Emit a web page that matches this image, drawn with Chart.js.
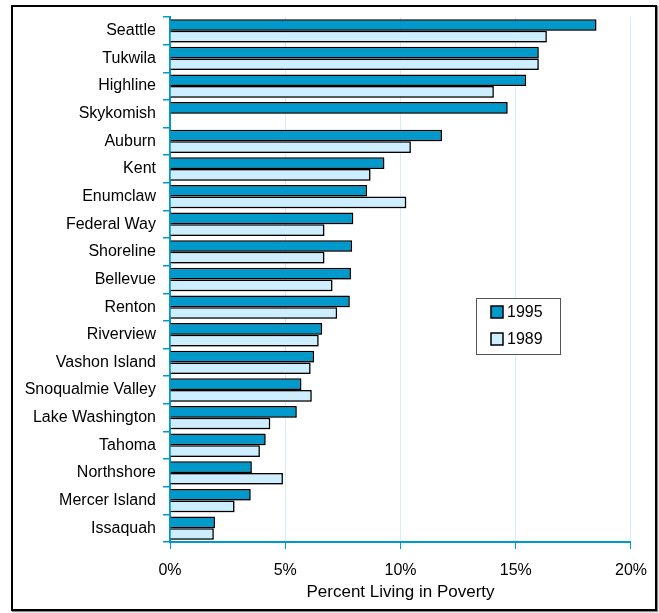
<!DOCTYPE html>
<html>
<head>
<meta charset="utf-8">
<script src="https://cdn.jsdelivr.net/npm/chart.js@4"></script>
<style>
  html, body { margin: 0; padding: 0; background: #fff; }
  #wrap { position: relative; width: 659px; height: 613px; }
  #frame {
    position: absolute; left: 11px; top: 5px; width: 646px; height: 606px;
    box-sizing: border-box; border: 2px solid #000; box-shadow: 1px 1px 1px #888;
    pointer-events: none;
  }
  canvas { position: absolute; left: 0; top: 0; }
</style>
</head>
<body>
<div id="wrap">
  <canvas id="chart" width="659" height="613"></canvas>
  <div id="frame"></div>
</div>
<script>
const districts = [
  "Seattle", "Tukwila", "Highline", "Skykomish", "Auburn", "Kent", "Enumclaw",
  "Federal Way", "Shoreline", "Bellevue", "Renton", "Riverview", "Vashon Island",
  "Snoqualmie Valley", "Lake Washington", "Tahoma", "Northshore", "Mercer Island", "Issaquah"
];
const poverty1995 = [18.5, 16.0, 15.45, 14.65, 11.8, 9.3, 8.55, 7.95, 7.9, 7.85, 7.8, 6.6, 6.25, 5.7, 5.5, 4.15, 3.55, 3.5, 1.95];
const poverty1989 = [16.35, 16.0, 14.05, null, 10.45, 8.7, 10.25, 6.7, 6.7, 7.05, 7.25, 6.45, 6.1, 6.15, 4.35, 3.9, 4.9, 2.8, 1.9];
const xTicks = [0, 5, 10, 15, 20];

const FONT = "'Liberation Sans', Arial, sans-serif";
const BLUE = "#0099CC";
const LIGHT = "#CCEEFF";

// soft drop shadow under the bars
const barShadow = {
  id: "barShadow",
  beforeDatasetsDraw(chart) {
    const ctx = chart.ctx;
    ctx.save();
    ctx.shadowColor = "rgba(0,0,0,0.35)";
    ctx.shadowOffsetX = 1;
    ctx.shadowOffsetY = 1;
    ctx.shadowBlur = 1;
  },
  afterDatasetsDraw(chart) {
    chart.ctx.restore();
  }
};

// boxed legend inside the plot
const boxLegend = {
  id: "boxLegend",
  afterDraw(chart) {
    const ctx = chart.ctx;
    ctx.save();
    ctx.fillStyle = "#fff";
    ctx.strokeStyle = "#555";
    ctx.lineWidth = 1;
    ctx.fillRect(476, 298, 84, 56);
    ctx.strokeRect(476.5, 298.5, 84, 56);
    ctx.font = "16px " + FONT;
    ctx.textBaseline = "middle";
    chart.data.datasets.forEach((ds, i) => {
      const y = 306 + i * 27;
      ctx.fillStyle = ds.backgroundColor;
      ctx.fillRect(491, y, 12, 12);
      ctx.strokeStyle = "#000";
      ctx.lineWidth = 1.5;
      ctx.strokeRect(491, y, 12, 12);
      ctx.fillStyle = "#000";
      ctx.fillText(ds.label, 507, y + 7);
    });
    ctx.restore();
  }
};

new Chart(document.getElementById("chart"), {
  type: "bar",
  data: {
    labels: districts,
    datasets: [
      { label: "1995", data: poverty1995, backgroundColor: BLUE, borderColor: "#000", borderWidth: 1.5 },
      { label: "1989", data: poverty1989, backgroundColor: LIGHT, borderColor: "#000", borderWidth: 1.5 }
    ]
  },
  options: {
    indexAxis: "y",
    responsive: false,
    animation: false,
    categoryPercentage: 0.845,
    barPercentage: 1.0,
    layout: { padding: { left: 0, right: 26, top: 17, bottom: 0 } },
    scales: {
      y: {
        afterFit: (s) => { s.width = 170; },
        grid: { drawOnChartArea: false, drawTicks: true, tickLength: 7, tickColor: BLUE, color: BLUE, lineWidth: 1.5 },
        border: { color: BLUE, width: 2 },
        ticks: { color: "#000", font: { family: FONT, size: 16 }, padding: 7 }
      },
      x: {
        min: 0,
        max: 20,
        afterFit: (s) => { s.height = 71; },
        afterBuildTicks: (s) => { s.ticks = xTicks.map((v) => ({ value: v })); },
        grid: { color: "#D6ECFA", tickColor: BLUE, tickLength: 7, lineWidth: 1 },
        border: { color: BLUE, width: 2 },
        ticks: { color: "#000", font: { family: FONT, size: 16 }, padding: 12, callback: (v) => v + "%" },
        title: { display: true, text: "Percent Living in Poverty", color: "#000", font: { family: FONT, size: 17 }, padding: { top: 0, bottom: 10 } }
      }
    },
    plugins: {
      legend: { display: false },
      tooltip: { enabled: false }
    }
  },
  plugins: [barShadow, boxLegend]
});
</script>
</body>
</html>
